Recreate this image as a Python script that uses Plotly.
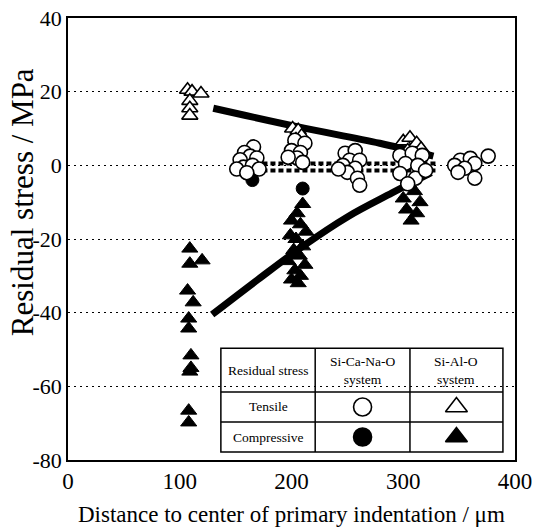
import plotly.graph_objects as go

# ---------------- data ----------------
# Si-Ca-Na-O system, tensile (open circles)
cana_t_x = [166, 158, 163, 154, 169, 157, 165, 171, 151, 160,
            203, 212, 200, 208, 205, 210, 197,
            248, 257, 252, 261, 246, 257, 250, 259, 261, 242,
            297, 308, 317, 302, 313, 297, 311, 320, 304,
            351, 360, 376, 364, 346, 355, 364, 349]
cana_t_y = [5, 3.5, 2.5, 1.5, 2, -0.5, 0, -1, -1, -2,
            6.8, 6, 4, 3.5, 2, 0.8, 2.2,
            3.3, 4, 1.4, 1.4, 0, -0.8, -1.9, -3.5, -5.4, -1,
            2.7, 3.3, 2.7, 0.5, 0, -2.2, -3.5, -1.4, -5,
            1.4, 1.9, 2.5, 0.5, 0, -0.8, -3.5, -1.9]
# Si-Ca-Na-O system, compressive (filled circles)
cana_c_x = [165, 210]
cana_c_y = [-4, -6.3]
# Si-Al-O system, tensile (open triangles)
alo_t_x = [107, 111, 119, 109, 109, 109,
           201, 206, 209, 204,
           300, 306, 312, 316, 304]
alo_t_y = [20.5, 20, 19.5, 17.5, 15.5, 13.5,
           10, 9.5, 8, 7,
           6.5, 7.5, 6, 4.5, 4]
# Si-Al-O system, compressive (filled triangles)
alo_c_x = [109, 120, 109, 107, 112, 108, 108, 110, 110, 109, 108, 108,
           210, 205, 200, 208, 213, 199, 204, 210, 202, 207, 197, 212, 203, 208, 200, 206,
           305, 310, 300, 315, 303, 312, 307]
alo_c_y = [-22.6, -25.8, -26.7, -34, -37.2, -41.6, -44.3, -51.6, -55, -56, -66.6, -69.8,
           -10.5, -13, -15, -16, -18, -19, -20, -22, -23, -24.5, -26, -27, -28.5, -30, -31, -32,
           -5, -7, -9, -10, -12, -13, -15]

# trend lines
fit_alo_t_x = [130, 205, 279, 327]
fit_alo_t_y = [15.5, 10.5, 6, 2.5]
fit_alo_c_x = [129, 170, 210, 250, 290, 325]
fit_alo_c_y = [-40.5, -31, -22, -14, -7.5, -2]
fit_cana_t_x = [174, 330]
fit_cana_t_y = [0.5, 0.5]
fit_cana_c_x = [174, 330]
fit_cana_c_y = [-1.4, -1.4]

x_ticks = [0, 100, 200, 300, 400]
y_ticks = [40, 20, 0, -20, -40, -60, -80]
y_ticktext = ["40", "20", "0", "-20", "-40", "-60", "-80"]

x_title = "Distance to center of primary indentation / μm"
y_title = "Residual stress / MPa"
table_header = ["Residual stress", "Si-Ca-Na-O<br>system", "Si-Al-O<br>system"]
table_rows = ["Tensile", "Compressive"]

# ---------------- figure ----------------
FONT = "Liberation Serif"
fig = go.Figure()

fig.add_trace(go.Scatter(x=fit_alo_t_x, y=fit_alo_t_y, mode="lines",
                         line=dict(color="black", width=7, shape="spline"), hoverinfo="skip"))
fig.add_trace(go.Scatter(x=fit_alo_c_x, y=fit_alo_c_y, mode="lines",
                         line=dict(color="black", width=7, shape="spline"), hoverinfo="skip"))
fig.add_trace(go.Scatter(x=fit_cana_t_x, y=fit_cana_t_y, mode="lines",
                         line=dict(color="black", width=4, dash="5px,3px"), hoverinfo="skip"))
fig.add_trace(go.Scatter(x=fit_cana_c_x, y=fit_cana_c_y, mode="lines",
                         line=dict(color="black", width=4, dash="5px,3px"), hoverinfo="skip"))

open_line = dict(color="black", width=1.6)
fig.add_trace(go.Scatter(x=alo_c_x, y=alo_c_y, mode="markers",
                         marker=dict(symbol="triangle-up", size=14, color="black",
                                     line=dict(color="black", width=1))))
fig.add_trace(go.Scatter(x=cana_c_x, y=cana_c_y, mode="markers",
                         marker=dict(symbol="circle", size=13, color="black",
                                     line=dict(color="black", width=1))))
fig.add_trace(go.Scatter(x=alo_t_x, y=alo_t_y, mode="markers",
                         marker=dict(symbol="triangle-up", size=14, color="white", line=open_line)))
fig.add_trace(go.Scatter(x=cana_t_x, y=cana_t_y, mode="markers",
                         marker=dict(symbol="circle", size=14, color="white", line=open_line)))

# table legend (paper coordinates)
tx = [0.342, 0.553, 0.765, 0.973]
ty = [0.253, 0.154, 0.086, 0.018]
fig.add_shape(type="rect", xref="paper", yref="paper", x0=tx[0], x1=tx[3], y0=ty[3], y1=ty[0],
              fillcolor="white", line=dict(width=0), layer="between")
fig.add_shape(type="rect", xref="paper", yref="paper", x0=tx[0], x1=tx[3], y0=ty[3], y1=ty[0],
              line=dict(color="black", width=1.5), layer="above")
for xv in tx[1:3]:
    fig.add_shape(type="line", xref="paper", yref="paper", x0=xv, x1=xv, y0=ty[3], y1=ty[0],
                  line=dict(color="black", width=1.5), layer="above")
for yv in ty[1:3]:
    fig.add_shape(type="line", xref="paper", yref="paper", x0=tx[0], x1=tx[3], y0=yv, y1=yv,
                  line=dict(color="black", width=1.5), layer="above")

colc = [(tx[i] + tx[i + 1]) / 2 for i in range(3)]
rowc = [(ty[i] + ty[i + 1]) / 2 for i in range(3)]
for i, t in enumerate(table_header):
    fig.add_annotation(x=colc[i], y=rowc[0], xref="paper", yref="paper", text=t, showarrow=False,
                       xanchor="center", yanchor="middle",
                       font=dict(family=FONT, size=13.5, color="black"))
for j, t in enumerate(table_rows):
    fig.add_annotation(x=colc[0], y=rowc[j + 1], xref="paper", yref="paper", text=t, showarrow=False,
                       xanchor="center", yanchor="middle",
                       font=dict(family=FONT, size=13.5, color="black"))

leg_specs = [(colc[1], rowc[1], "circle", "white", 18), (colc[2], rowc[1], "triangle-up", "white", 19),
             (colc[1], rowc[2], "circle", "black", 18), (colc[2], rowc[2], "triangle-up", "black", 19)]
for lx, ly, sym, col, sz in leg_specs:
    fig.add_trace(go.Scatter(x=[lx], y=[ly], xaxis="x2", yaxis="y2", mode="markers",
                             marker=dict(symbol=sym, size=sz, color=col,
                                         line=dict(color="black", width=1.6)),
                             hoverinfo="skip"))

# axis titles
fig.add_annotation(x=0.5, y=-0.124, xref="paper", yref="paper", text=x_title, showarrow=False,
                   xanchor="center", yanchor="middle", font=dict(family=FONT, size=23, color="black"))
fig.add_annotation(x=-0.1, y=0.584, xref="paper", yref="paper", text=y_title, showarrow=False,
                   textangle=-90, xanchor="center", yanchor="middle",
                   font=dict(family=FONT, size=31, color="black"))

fig.update_layout(
    width=533, height=529,
    margin=dict(l=68, r=18, t=18, b=69),
    paper_bgcolor="white", plot_bgcolor="white",
    showlegend=False,
    font=dict(family=FONT, color="black"),
    xaxis=dict(range=[0, 400], tickvals=x_ticks, ticks="", showgrid=False, zeroline=False,
               showline=True, linecolor="black", linewidth=1.5, mirror=True, automargin=False,
               tickfont=dict(size=23, family=FONT)),
    yaxis=dict(range=[-80, 40], tickvals=y_ticks, ticktext=y_ticktext, ticks="",
               showgrid=True, gridcolor="black",
               griddash="2px,4px", gridwidth=1.3, zeroline=False, automargin=False,
               showline=True, linecolor="black", linewidth=1.5, mirror=True,
               tickfont=dict(size=22, family=FONT)),
    xaxis2=dict(overlaying="x", range=[0, 1], visible=False),
    yaxis2=dict(overlaying="y", range=[0, 1], visible=False),
)

fig.write_html("out.html")
